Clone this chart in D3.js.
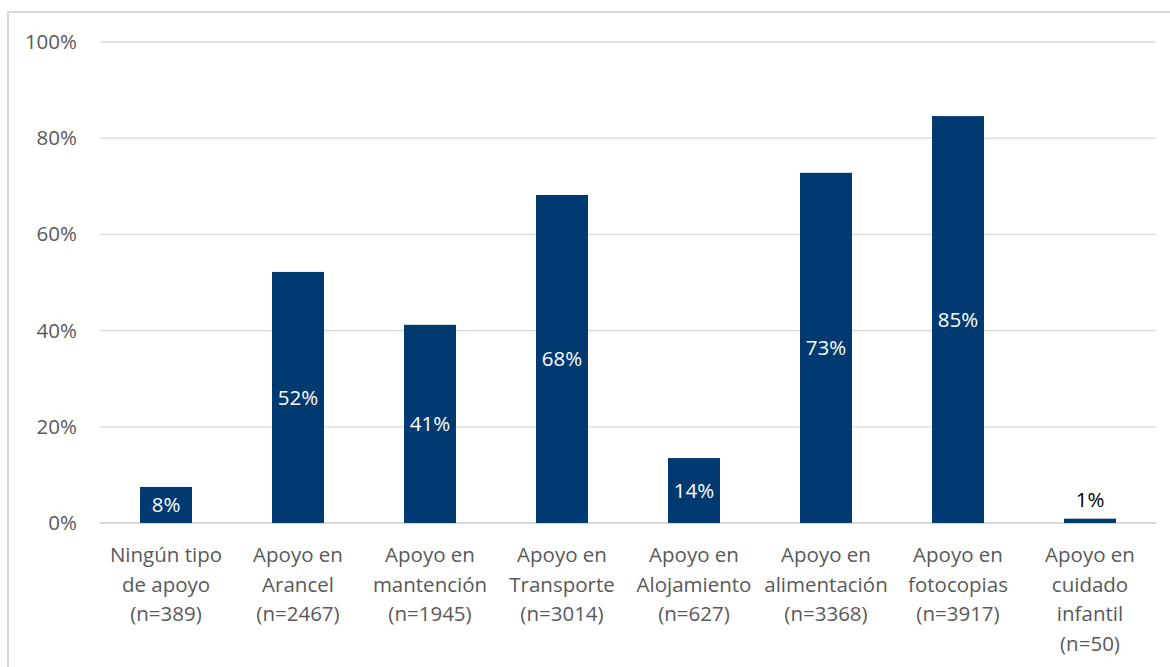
<html>
<head>
  <meta charset="utf-8">
  <style type="text/css">
    body { margin: 0; background: #fff; }
    text { font-family: "Open Sans", sans-serif; }
  </style>
</head>
<body>
  <div id="viz"></div>
  <script src="https://cdnjs.cloudflare.com/ajax/libs/d3/7.8.5/d3.min.js"></script>
  <script>
  // categories (lines split by \n)
  const categories = [
    'Ningún tipo\nde apoyo\n(n=389)',
    'Apoyo en\nArancel\n(n=2467)',
    'Apoyo en\nmantención\n(n=1945)',
    'Apoyo en\nTransporte\n(n=3014)',
    'Apoyo en\nAlojamiento\n(n=627)',
    'Apoyo en\nalimentación\n(n=3368)',
    'Apoyo en\nfotocopias\n(n=3917)',
    'Apoyo en\ncuidado\ninfantil\n(n=50)'
  ];
  const values = [7.5, 52.2, 41.2, 68.2, 13.5, 72.8, 84.6, 0.9];
  const valueLabels = ['8%', '52%', '41%', '68%', '14%', '73%', '85%', '1%'];
  const yTicks = [0, 20, 40, 60, 80, 100];

  const W = 1170, H = 667;
  const plot = { left: 100, right: 1156, top: 42, bottom: 523 };
  const fontSize = '20.5px';

  const svg = d3.select('#viz').append('svg')
    .attr('width', W)
    .attr('height', H);

  // outer chart border
  svg.append('rect')
    .attr('x', 8).attr('y', 12)
    .attr('width', 1200).attr('height', 700)
    .attr('fill', 'none')
    .attr('stroke', '#d9d9d9')
    .attr('stroke-width', 2);

  const x = d3.scaleBand()
    .domain(categories)
    .range([plot.left, plot.right])
    .paddingInner(0.606)
    .paddingOuter(0.303);

  const y = d3.scaleLinear()
    .domain([0, 100])
    .range([plot.bottom, plot.top]);

  // gridlines
  svg.append('g')
    .selectAll('line').data(yTicks)
    .enter().append('line')
      .attr('x1', plot.left).attr('x2', plot.right)
      .attr('y1', d => y(d)).attr('y2', d => y(d))
      .attr('stroke', '#d9d9d9')
      .attr('stroke-width', d => d === 0 ? 2 : 1.3);

  // y axis labels
  const yAxis = d3.axisLeft(y)
    .tickValues(yTicks)
    .tickFormat(d => d + '%')
    .tickSize(0)
    .tickPadding(23);
  const yG = svg.append('g')
    .attr('transform', 'translate(' + plot.left + ',0)')
    .call(yAxis);
  yG.select('.domain').remove();
  yG.selectAll('text')
    .attr('fill', '#595959')
    .style('font-size', fontSize)
    .style('font-family', '"Open Sans", sans-serif');

  // bars
  svg.append('g')
    .selectAll('rect').data(values)
    .enter().append('rect')
      .attr('x', (d, i) => x(categories[i]))
      .attr('width', x.bandwidth())
      .attr('y', d => y(d))
      .attr('height', d => plot.bottom - y(d))
      .attr('fill', '#003a70');

  // value labels
  svg.append('g')
    .selectAll('text').data(values)
    .enter().append('text')
      .attr('x', (d, i) => x(categories[i]) + x.bandwidth() / 2)
      .attr('y', d => d < 3 ? y(d) - 19 : (y(d) + plot.bottom) / 2)
      .attr('dy', '0.35em')
      .attr('text-anchor', 'middle')
      .attr('fill', d => d < 3 ? '#000' : '#fff')
      .style('font-size', fontSize)
      .text((d, i) => valueLabels[i]);

  // category labels
  const xAxis = d3.axisBottom(x).tickSize(0).tickFormat('');
  const xG = svg.append('g')
    .attr('transform', 'translate(0,' + plot.bottom + ')')
    .call(xAxis);
  xG.select('.domain').remove();

  const catG = svg.append('g');
  categories.forEach((c, i) => {
    const t = catG.append('text')
      .attr('x', x(c) + x.bandwidth() / 2)
      .attr('y', 562)
      .attr('text-anchor', 'middle')
      .attr('fill', '#595959')
      .style('font-size', fontSize);
    c.split('\n').forEach((line, j) => {
      t.append('tspan')
        .attr('x', x(c) + x.bandwidth() / 2)
        .attr('dy', j === 0 ? 0 : 29.5)
        .text(line);
    });
  });
  </script>
</body>
</html>
